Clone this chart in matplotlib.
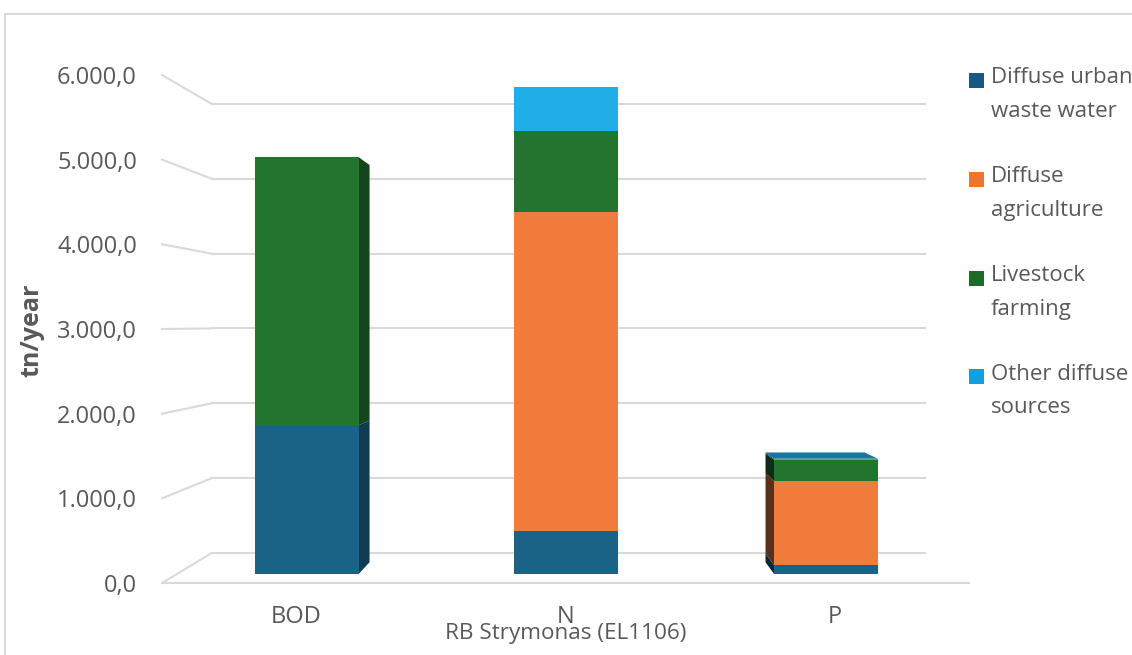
import matplotlib
matplotlib.use("Agg")
import matplotlib.pyplot as plt
import matplotlib.colors as mcolors
from matplotlib.transforms import Affine2D, IdentityTransform
from matplotlib.patches import Polygon, Rectangle
from matplotlib.lines import Line2D

plt.rcParams["font.family"] = ["Open Sans", "DejaVu Sans"]

# ---- data (tn/year) ----
categories = ["BOD", "N", "P"]
series_labels = ["Diffuse urban\nwaste water", "Diffuse\nagriculture",
                 "Livestock\nfarming", "Other diffuse\nsources"]
urban_waste_water = [1820, 530, 110]
diffuse_agriculture = [0, 3900, 1030]
livestock_farming = [3280, 990, 255]
other_diffuse = [0, 540, 15]
y_ticks = [0, 1000, 2000, 3000, 4000, 5000, 6000]
x_title = "RB Strymonas (EL1106)"
y_title = "tn/year"

series_values = [urban_waste_water, diffuse_agriculture, livestock_farming, other_diffuse]
series_colors = ["#1b6386", "#f27c3c", "#22742e", "#21ade6"]
legend_colors = ["#175c80", "#eb7533", "#1e6b29", "#159fda"]
text_color = "#595959"

W, H = 1132, 655
fig = plt.figure(figsize=(W / 100, H / 100), dpi=100)
fig.patch.set_facecolor("white")

# front plane of the 3-D box
ax = fig.add_axes([162 / W, 72 / H, 807 / W, 508 / H])
ax.set_autoscale_on(False)
ax.set_xlim(-0.5, len(categories) - 0.5)
ax.set_ylim(y_ticks[0], y_ticks[-1])
ax.patch.set_visible(False)
for sp in ax.spines.values():
    sp.set_visible(False)

# perspective: planes deeper in the scene shrink towards the vanishing point
VX, VY = 591.0, H - 324.0


def plane(depth_scale):
    return ax.transData + Affine2D().translate(-VX, -VY).scale(depth_scale).translate(VX, VY)


BACK_WALL = 0.884
BAR_FRONT = 0.965
BAR_BACK = 0.920

grid_color = "#d9d9d9"
back = plane(BACK_WALL)
x_lo, x_hi = ax.get_xlim()
for v in y_ticks:
    ax.plot([x_lo, x_hi], [v, v], transform=back, color=grid_color, lw=1.5,
            clip_on=False, zorder=1)
    p0 = ax.transData.transform((x_lo, v))
    p1 = back.transform((x_lo, v))
    ax.add_line(Line2D([p0[0], p1[0]], [p0[1], p1[1]], transform=IdentityTransform(),
                       color=grid_color, lw=1.5, clip_on=False, zorder=1))
# front edge of the floor
ax.plot([x_lo, x_hi], [0, 0], color=grid_color, lw=1.5, clip_on=False, zorder=1)


def shade(color, factor):
    r, g, b = mcolors.to_rgb(color)
    return (r * factor, g * factor, b * factor)


bar_width = 0.4
front = plane(BAR_FRONT)
rear = plane(BAR_BACK)

for j, cat in enumerate(categories):
    xl, xr = j - bar_width / 2, j + bar_width / 2
    bottom = 0
    segments = []
    for vals, col in zip(series_values, series_colors):
        h = vals[j]
        if h > 0:
            segments.append((bottom, bottom + h, col))
        bottom += h
    total = bottom

    # visible side face
    edge, factor = None, 1.0
    if front.transform((xr, 0))[0] < VX:
        edge, factor = xr, 0.6
    elif front.transform((xl, 0))[0] > VX:
        edge, factor = xl, 0.38
    if edge is not None:
        for b0, b1, col in segments:
            pts = [front.transform((edge, b0)), front.transform((edge, b1)),
                   rear.transform((edge, b1)), rear.transform((edge, b0))]
            ax.add_patch(Polygon(pts, closed=True, transform=IdentityTransform(),
                                 facecolor=shade(col, factor), edgecolor="none",
                                 clip_on=False, zorder=2))

    # top face when it lies below eye level
    if front.transform((xl, total))[1] < VY:
        pts = [front.transform((xl, total)), front.transform((xr, total)),
               rear.transform((xr, total)), rear.transform((xl, total))]
        ax.add_patch(Polygon(pts, closed=True, transform=IdentityTransform(),
                             facecolor=shade(segments[-1][2], 0.68), edgecolor="none",
                             clip_on=False, zorder=2))

# front faces of the stacked bars
bottoms = [0] * len(categories)
for vals, col in zip(series_values, series_colors):
    ax.bar(range(len(categories)), vals, bottom=bottoms, width=bar_width, color=col,
           transform=front, clip_on=False, zorder=3, linewidth=0)
    bottoms = [b + v for b, v in zip(bottoms, vals)]


def euro_fmt(v):
    s = f"{v:,.1f}"
    return s.replace(",", "#").replace(".", ",").replace("#", ".")


ax.set_yticks(y_ticks)
ax.set_yticklabels([euro_fmt(v) for v in y_ticks])
ax.set_xticks(range(len(categories)))
ax.set_xticklabels(categories)
ax.tick_params(axis="y", length=0, pad=18, labelsize=17, labelcolor=text_color)
ax.tick_params(axis="x", length=0, pad=16, labelsize=17, labelcolor=text_color)

ax.set_ylabel(y_title, fontsize=18, fontweight="bold", color=text_color)
ax.yaxis.set_label_coords(-0.146, 0.498)
ax.set_xlabel(x_title, fontsize=16.2, color=text_color)
ax.xaxis.set_label_coords(0.5, -0.078)
ax.xaxis.label.set_va("top")

# legend: square marker beside the first line of each two-line entry
for i, (lab, col) in enumerate(zip(series_labels, legend_colors)):
    y_first = H - (80.5 + 98.8 * i)
    fig.add_artist(Rectangle((969, y_first - 7.5), 15, 15, transform=IdentityTransform(),
                             facecolor=col, edgecolor="none"))
    fig.text(991 / W, (y_first - 14) / H, lab, fontsize=16, color=text_color,
             va="center", ha="left", linespacing=1.8)

# chart-area border
fig.add_artist(Line2D([4.5, 4.5], [0, H - 14], transform=IdentityTransform(),
                      color=grid_color, lw=1.5))
fig.add_artist(Line2D([4.5, W], [H - 14, H - 14], transform=IdentityTransform(),
                      color=grid_color, lw=1.5))

fig.savefig("out.png", dpi=100)
